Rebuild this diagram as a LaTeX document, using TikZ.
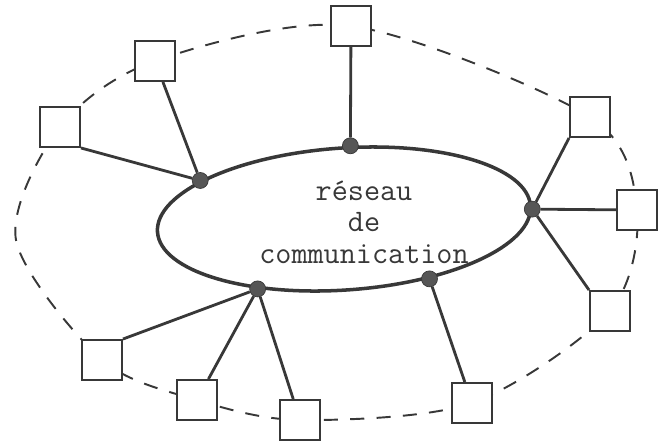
\documentclass[tikz,border=0pt]{standalone}
\usepackage{fontspec}
\usetikzlibrary{shapes.geometric,backgrounds}

\definecolor{ink}{gray}{0.22}
\tikzset{
  terminal/.style={draw=ink, fill=white, line width=1.1pt, minimum size=0.8cm, inner sep=0pt},
  hub/.style={circle, draw=ink, fill=ink!85, minimum size=0.32cm, inner sep=0pt},
  link/.style={draw=ink, line width=1.6pt},
  boundary/.style={draw=ink, line width=1.1pt, dash pattern=on 8pt off 7pt}
}

\begin{document}
\begin{tikzpicture}[x=0.02cm, y=-0.02cm]
\useasboundingbox (0,0) rectangle (666,443);
%%Ring
\node[ellipse, draw=ink, line width=2pt, minimum width=7.48cm, minimum height=2.84cm,
      rotate=4, inner sep=0pt] (ring) at (344,219) {};
\node[font=\ttfamily\fontsize{17.8}{18}\selectfont, align=center, text=ink] (label) at (364,222)
  {réseau\\de\\communication};
%%Hubs
\node[hub] (hA) at (ring.161) {};
\node[hub] (hB) at (ring.81) {};
\node[hub] (hC) at (ring.-1) {};
\node[hub] (hE) at (ring.-39) {};
\node[hub] (hD) at (ring.-145) {};
%%Stations
\node[terminal] (s1) at (60,127) {};
\node[terminal] (s2) at (155,61) {};
\node[terminal] (s3) at (351,26) {};
\node[terminal] (s4) at (590,117) {};
\node[terminal] (s5) at (637,210) {};
\node[terminal] (s6) at (610,311) {};
\node[terminal] (s7) at (472,403) {};
\node[terminal] (s8) at (300,420) {};
\node[terminal] (s9) at (197,400) {};
\node[terminal] (s10) at (102,360) {};
\coordinate (w) at (16,240);
%%Boundary
\begin{scope}[on background layer]
\draw[boundary] plot[smooth cycle] coordinates {(s1) (s2) (s3) (s4) (s5) (s6) (s7) (s8) (s9) (s10) (w)};
\end{scope}
%%Links
\draw[link] (hA) -- (s1.south east);
\draw[link] (hA) -- (s2);
\draw[link] (hB) -- (s3);
\draw[link] (hC) -- (s4.south west);
\draw[link] (hC) -- (s5);
\draw[link] (hC) -- (s6.north west);
\draw[link] (hE) -- (s7);
\draw[link] (hD) -- (s8);
\draw[link] (hD) -- (s9);
\draw[link] (hD) -- (s10.north east);

\end{tikzpicture}
\end{document}
